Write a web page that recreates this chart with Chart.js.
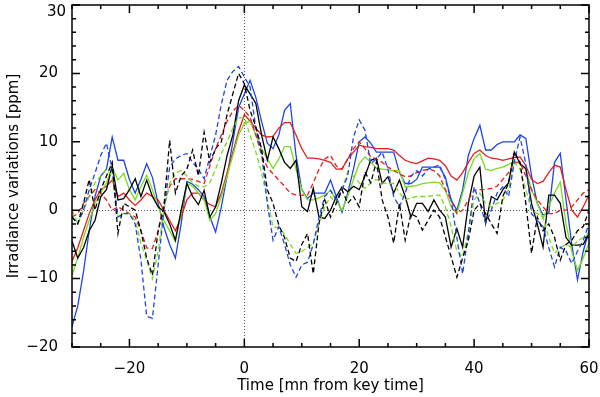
<!DOCTYPE html>
<html>
<head>
<meta charset="utf-8">
<script src="https://cdn.jsdelivr.net/npm/chart.js@4"></script>
<style>
  html, body { margin: 0; padding: 0; background: #fff; }
  #wrap { width: 600px; height: 397px; }
</style>
</head>
<body>
<div id="wrap"><canvas id="c" width="600" height="397"></canvas></div>
<script>
// time in minutes from key time
const times = [-30,-29,-28,-27,-26,-25,-24,-23,-22,-21,-20,-19,-18,-17,-16,-15,-14,-13,-12,-11,
  -10,-9,-8,-7,-6,-5,-4,-3,-2,-1,0,1,2,3,4,5,6,7,8,9,10,11,12,13,14,15,16,17,18,19,
  20,21,22,23,24,25,26,27,28,29,30,31,32,33,34,35,36,37,38,39,40,41,42,43,44,45,46,47,48,49,
  50,51,52,53,54,55,56,57,58,59,60];

// solid curves
const blackSolid = [-4.5,-7,-5.5,-3,-1.5,2,3,6.5,1.5,1.7,3,4.6,2,4.4,2,0.5,-0.2,-2,-4.4,0,
  3.9,2,0.8,2.9,-1,0.5,4,8,11,16,18.3,17,15.6,11,7.3,10.7,9,7,6.1,7.3,0.5,-0.2,3.2,-1,-1.2,0,2,3.4,2.7,3.5,
  3,5,7.3,7.6,3.9,4.9,2.5,4.4,2,-1,1,1,-0.2,1.5,0,-1,-5.4,-2.7,-5.4,1,5,6.3,-1.9,2,1.5,3,4,8.5,6.8,6.1,
  1,-2,-5.4,2.2,2.2,1,-4,-5.1,-5.1,-5,-3.4];
const blueSolid = [-17,-14,-9,-3,2,5,6,10.7,7.3,7.3,4.5,2.5,4.5,6.8,4.8,1,-2.5,-5,-7,-2,
  4.2,3.8,3,2,-1,-3.2,0.5,5,10,15,17,19,16.5,13,9.8,9,11,14.6,15.6,8,3,1.7,2.5,2.5,2.5,4.4,2,-0.3,2.5,6,
  10,10.7,9.8,8.5,8.5,8.5,8.5,5.5,3.9,3.9,4.5,6.3,6.3,6.3,6.3,4.8,1.5,0,3,8,10.5,12.4,8.8,8.8,9.6,10,10,10,11,10.5,
  5,1,-0.7,-0.4,7,8.3,1.5,-5,-10.2,-6,-3];
const greenSolid = [-9.5,-7,-4,-1.5,1,2.5,4,6.3,4.4,5.4,3,1.5,3.5,5.1,3,0.5,-1.5,-3,-4.6,-0.5,
  3.9,3.5,2.5,1.5,-1.5,-0.5,2,5,8,11,12.7,13,11,9,7.5,6.1,7.5,9.3,9.3,6,3,1.5,1.5,1.8,2.2,2.9,1.5,0,2,4.5,
  6.8,7.8,7,6.1,6,5.9,5.8,5.8,3.4,3.5,3.6,3.9,4,4.1,4,2.9,0.5,-0.5,2.5,5.5,7.5,8.3,6,5.8,6.1,6.3,6.7,7.1,6.8,6,
  3,1,-1.2,0.5,2.5,4.1,-2,-6,-8.8,-7,-4.8];
const redSolid = [-7.5,-5.5,-3,-0.5,1.5,3,3.5,4.4,2,2.5,1.5,0.7,1.5,2.5,2,1.5,0,-1.5,-3,-1,
  1.5,2.5,2.5,1.5,0.8,0.5,2.5,5.5,8.5,11.5,14,13,12,11,10.7,10.8,12,12.8,12.8,11,9,7.6,7.6,7.5,7.3,7,6,6,7.5,8.5,
  9.5,9.3,9.2,9,9,9,8.8,8,7.3,7,6.8,7.2,7.6,7.5,7.3,6.5,5,4.4,5.5,7,8.3,8.8,8,7.6,7.5,7.3,7.5,7.7,7.8,6.5,
  4.5,3.9,4.2,5.5,6.6,6.3,3,0,-1,0.5,2.2];

// dashed curves
const blackDashed = [-1,-2,1,4.5,0,3,5,7,-3.4,1,0.5,0,-3,-7,-9.5,-3,0.5,10.2,2.5,5,
  6,8.8,5,11.4,7,9,10,14,17,20,18.5,14.6,12.2,9,3,1,-2.2,-4,-7,-7.5,-5,-3.4,-9.3,-1.9,1.5,-1,1,3,1,2,
  0.5,5.6,4,7.1,1.5,-1,-4.8,1,-4.4,-0.5,-1,-2.9,-1.5,0,-1,-3.9,-6.8,-9.8,-7,-4.4,0,1,-0.5,-2,-3.4,2,4,8.5,7,1,
  -6.3,-1,-3,-2,-4,-7.3,-5,-4.4,-3,-2.4,0];
const blueDashed = [-1,-2,0,3,5.4,8,9.8,6,-1,-0.5,-0.5,-2,-7.3,-15.5,-15.8,-8,0,6.3,7.5,8,
  8.3,7,6,4.6,7.8,11,15.5,19,20.3,21,19.5,18,12,8.3,1,-4.4,-2.4,-5,-8,-9.8,-8,-7.6,-5,-1,2,2.9,1.5,3,5,10.7,
  13.2,11.7,6.8,7.5,8.5,6,2,0.5,2.5,5,5.8,5,6,6.3,6.6,4.5,1.5,-4,-9.3,-3.4,3.4,1,-1.9,0,2.5,3.4,2,7.1,10.7,6.8,
  -0.5,-1.5,-2.4,-5.5,-8.3,-5.4,-6,-7.8,-6,-4.4,-2];
const greenDashed = [0,-2,0,2,4,5,6,5,-1,-0.5,-0.5,-1.5,-4.8,-7.3,-10,-6,0,3.9,5.4,5.8,
  5,4,3.5,3.4,4,6,8.3,10,12,13.5,13.5,11,8.5,5.5,1.5,-2.4,-2.6,-3.5,-5,-6.3,-6,-5.5,-4.8,-2,0.5,2,1,3,5.6,5,
  4,3.2,4,4.5,4,3.9,3.9,2.5,1.5,1.8,2,2,2,2.2,2.2,0.5,-2.4,-6,-6.8,-3,1.5,2.5,1,0.5,1,1.5,3,7,6,3,
  0,-0.5,-1,-4,-6.3,-5.5,-5,-5.5,-4.5,-4,-3.4];
const redDashed = [-1,-0.5,1,2,3,2.5,1.5,0,0.5,0,-0.5,-1,-3,-5.5,-5.6,-3,1,3.5,4.6,4.6,
  4.6,4.5,4.2,3.9,6.5,9,11,13,14.5,15.3,14.6,13.6,11,8,6.3,5.3,4.4,3.5,2.5,2.2,2.2,2.2,4,6,7.5,8,6.5,6,7.5,9,
  10,9,7.8,7.5,7,6.3,5.8,5.3,4.9,5,5.5,5.8,6,5.8,5,3,1.5,-0.5,0,1.5,2.9,3,3,3.2,3.5,4.5,5.5,7,7,5,
  3,1.5,0.5,-0.5,-0.5,0,0,0.5,1.5,2.5,3];

const xTicks = [-20, 0, 20, 40, 60];
const yTicks = [-20, -10, 0, 10, 20, 30];

const BLACK = '#000000';
const BLUE = '#1e46e6';
const GREEN = '#78dc1e';
const RED = '#e61e1e';

const pts = vals => vals.map((v, i) => ({ x: times[i], y: v }));
const ds = (vals, color, dashed) => ({
  data: pts(vals),
  borderColor: color,
  borderWidth: 1.3,
  borderDash: dashed ? [5, 3] : [],
  pointRadius: 0,
  tension: 0,
  fill: false
});

const fmt = v => String(v).replace('-', '\u2212');
const font = { family: 'DejaVu Sans', size: 15 };

// frame, inward ticks on four sides and dotted zero lines
const framePlugin = {
  id: 'frame',
  beforeDatasetsDraw(chart) {
    const { ctx, chartArea: a, scales: { x, y } } = chart;
    ctx.save();
    ctx.strokeStyle = '#555';
    ctx.lineWidth = 1;
    ctx.setLineDash([1, 2]);
    const x0 = Math.round(x.getPixelForValue(0)) + 0.5;
    const y0 = Math.round(y.getPixelForValue(0)) + 0.5;
    ctx.beginPath();
    ctx.moveTo(x0, a.top); ctx.lineTo(x0, a.bottom);
    ctx.moveTo(a.left, y0); ctx.lineTo(a.right, y0);
    ctx.stroke();
    ctx.restore();
  },
  afterDatasetsDraw(chart) {
    const { ctx, chartArea: a, scales: { x, y } } = chart;
    ctx.save();
    ctx.strokeStyle = '#000';
    ctx.lineWidth = 1.5;
    ctx.strokeRect(a.left, a.top, a.right - a.left, a.bottom - a.top);
    ctx.beginPath();
    for (let t = -30; t <= 60; t += 5) {
      const px = x.getPixelForValue(t);
      const len = t % 20 === 0 ? 8 : 4;
      ctx.moveTo(px, a.bottom); ctx.lineTo(px, a.bottom - len);
      ctx.moveTo(px, a.top); ctx.lineTo(px, a.top + len);
    }
    for (let v = -20; v <= 30; v += 2) {
      const py = y.getPixelForValue(v);
      const len = v % 10 === 0 ? 8 : 4;
      ctx.moveTo(a.left, py); ctx.lineTo(a.left + len, py);
      ctx.moveTo(a.right, py); ctx.lineTo(a.right - len, py);
    }
    ctx.stroke();
    // top label sits just below its tick so it is not cut off
    ctx.fillStyle = '#000';
    ctx.font = font.size + 'px "' + font.family + '"';
    ctx.textAlign = 'right';
    ctx.textBaseline = 'middle';
    ctx.fillText(fmt(y.max), a.left - 6, a.top + 7);
    ctx.restore();
  }
};

new Chart(document.getElementById('c'), {
  type: 'line',
  data: {
    datasets: [
      ds(blackDashed, BLACK, true),
      ds(blueDashed, BLUE, true),
      ds(greenDashed, GREEN, true),
      ds(redDashed, RED, true),
      ds(blackSolid, BLACK, false),
      ds(greenSolid, GREEN, false),
      ds(redSolid, RED, false),
      ds(blueSolid, BLUE, false)
    ]
  },
  options: {
    responsive: false,
    animation: false,
    layout: { padding: { top: 5, right: 11, left: 0, bottom: 0 } },
    plugins: { legend: { display: false }, tooltip: { enabled: false } },
    scales: {
      x: {
        type: 'linear',
        min: -30, max: 60,
        grid: { display: false },
        border: { display: false },
        afterBuildTicks: s => { s.ticks = xTicks.map(v => ({ value: v })); },
        afterFit: s => { s.height = 50; s.paddingLeft = 0; s.paddingRight = 0; },
        ticks: { color: '#000', font, padding: 5, callback: fmt },
        title: { display: true, text: 'Time [mn from key time]', color: '#000', font, padding: { top: 0, bottom: 2 } }
      },
      y: {
        min: -20, max: 30,
        grid: { display: false },
        border: { display: false },
        afterBuildTicks: s => { s.ticks = yTicks.map(v => ({ value: v })); },
        afterFit: s => { s.width = 72; s.paddingTop = 0; s.paddingBottom = 0; },
        ticks: { color: '#000', font, padding: 6, callback: v => (v === 30 ? '' : fmt(v)) },
        title: { display: true, text: 'Irradiance variations [ppm]', color: '#000', font, padding: { top: 5, bottom: 0 } }
      }
    }
  },
  plugins: [framePlugin]
});
</script>
</body>
</html>
